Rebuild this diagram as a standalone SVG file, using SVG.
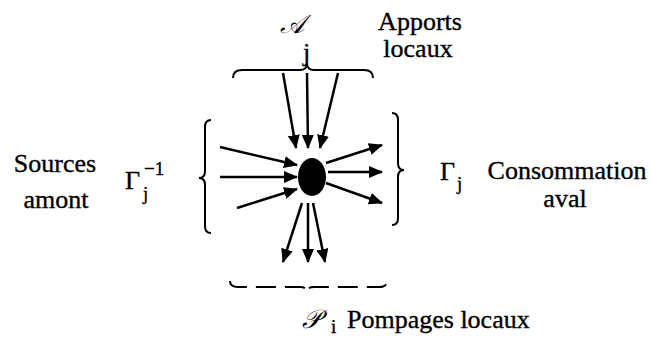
<svg xmlns="http://www.w3.org/2000/svg" width="652" height="343" viewBox="0 0 652 343">
<style>
text{font-family:'Liberation Serif','DejaVu Serif','Times New Roman',serif;font-size:26px;fill:#000;stroke:#000;stroke-width:0.35}
.br{fill:none;stroke:#000;stroke-width:2}
.ar{fill:none;stroke:#000;stroke-width:2.5;marker-end:url(#ah)}
text.sub{font-size:19px}
text.scr{font-family:'DejaVu Serif','DejaVu Sans',serif;font-style:italic;font-size:26px;stroke-width:0}
</style>
<defs>
<marker id="ah" markerUnits="userSpaceOnUse" viewBox="0 0 14 12" refX="13" refY="6" markerWidth="14" markerHeight="12" orient="auto">
<path d="M0,0 L14,6 L0,12 Z" fill="#000"/>
</marker>
</defs>
<rect width="652" height="343" fill="#fff"/>
<g id="node-center">
<ellipse cx="312" cy="177" rx="14" ry="19" fill="#000"/>
</g>
<g id="connectors">
<line class="ar" x1="283" y1="73" x2="296" y2="148"/>
<line class="ar" x1="307" y1="73" x2="308" y2="148"/>
<line class="ar" x1="338" y1="73" x2="320" y2="148"/>
<line class="ar" x1="220" y1="147" x2="297" y2="165"/>
<line class="ar" x1="220" y1="177" x2="297" y2="177"/>
<line class="ar" x1="237" y1="208" x2="297" y2="189"/>
<line class="ar" x1="326" y1="163" x2="382" y2="145"/>
<line class="ar" x1="328" y1="172" x2="382" y2="172"/>
<line class="ar" x1="326" y1="183" x2="382" y2="203"/>
<line class="ar" x1="302" y1="203" x2="283" y2="262"/>
<line class="ar" x1="308" y1="203" x2="308" y2="262"/>
<line class="ar" x1="313" y1="203" x2="325" y2="262"/>
</g>
<g id="group-apports">
<path class="br" d="M233,78 Q233,70 242,70 L300,70 Q307,70 307,63 Q307,70 314,70 L364,70 Q373,70 373,78"/>
<text class="scr" x="280" y="33">𝒜</text>
<text x="303" y="61">j</text>
<text x="420" y="30" text-anchor="middle">Apports</text>
<text x="418" y="57" text-anchor="middle">locaux</text>
</g>
<g id="group-sources">
<path class="br" d="M211,120 Q205,120 205,127 L205,171 Q205,178 199,178 Q205,178 205,185 L205,226 Q205,233 211,233"/>
<text x="55" y="172" text-anchor="middle">Sources</text>
<text x="56" y="208" text-anchor="middle">amont</text>
<text x="125" y="189">Γ</text>
<text class="sub" x="143" y="200">j</text>
<text class="sub" x="144" y="175">−1</text>
</g>
<g id="group-consommation">
<path class="br" d="M392,113 Q398,113 398,120 L398,163 Q398,170 404,170 Q398,170 398,177 L398,218 Q398,225 392,225"/>
<text x="440" y="180">Γ</text>
<text class="sub" x="457" y="190">j</text>
<text x="567" y="179" text-anchor="middle">Consommation</text>
<text x="565" y="207" text-anchor="middle">aval</text>
</g>
<g id="group-pompages">
<path class="br" stroke-dasharray="20 9" d="M230,281 Q230,287 238,287 L300,287 Q307,287 307,292 Q307,287 314,287 L379,287 Q387,287 387,281"/>
<text class="scr" x="302" y="328">𝒫</text>
<text class="sub" x="331" y="333">i</text>
<text x="347" y="328">Pompages locaux</text>
</g>
</svg>
